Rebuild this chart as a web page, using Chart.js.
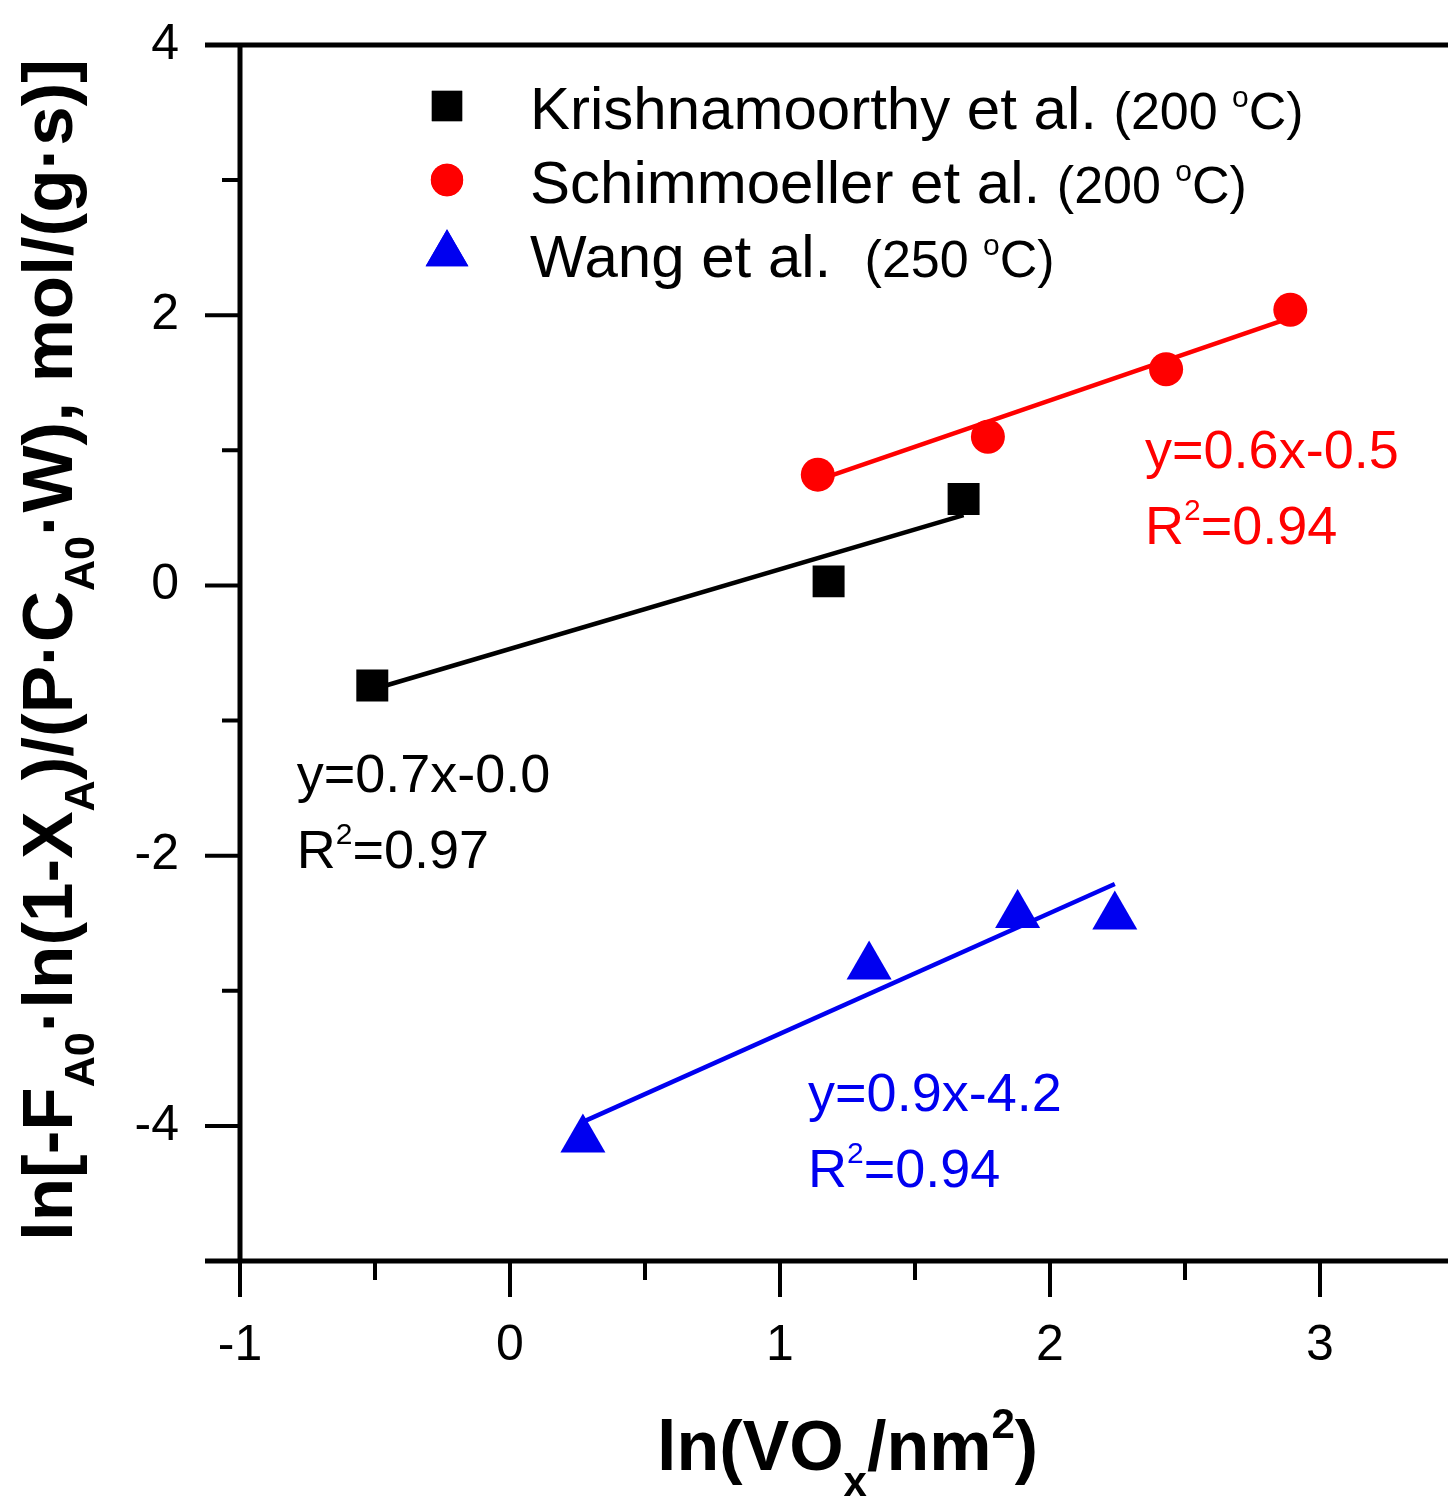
<!DOCTYPE html>
<html>
<head>
<meta charset="utf-8">
<script src="https://cdn.jsdelivr.net/npm/chart.js@4.4.0/dist/chart.umd.min.js"></script>
<style>
  html, body { margin: 0; padding: 0; background: #fff; overflow: hidden; }
  canvas { display: block; }
</style>
</head>
<body>
<canvas id="chart" width="1460" height="1501"></canvas>
<script>
// ---- data ----
const krishX = [-0.51, 1.18, 1.68];
const krishY = [-0.74, 0.03, 0.64];
const krishFitX = [-0.51, 1.68];
const krishFitY = [-0.77, 0.52];

const schimX = [1.14, 1.77, 2.43, 2.89];
const schimY = [0.82, 1.10, 1.60, 2.04];
const schimFitX = [1.14, 2.89];
const schimFitY = [0.78, 1.98];

const wangX = [0.27, 1.33, 1.88, 2.24];
const wangY = [-4.10, -2.82, -2.44, -2.45];
const wangFitX = [0.27, 2.24];
const wangFitY = [-3.97, -2.21];

const seriesNames = ['Krishnamoorthy et al.', 'Schimmoeller et al.', 'Wang et al. '];
const seriesTemps = ['200', '200', '250'];
const fitEquations = ['y=0.7x-0.0', 'y=0.6x-0.5', 'y=0.9x-4.2'];
const fitR2 = ['0.97', '0.94', '0.94'];

const xTickLabels = [-1, 0, 1, 2, 3];
const yTickLabels = [4, 2, 0, -2, -4];
const xRange = [-1, 3.5];
const yRange = [-5, 4];

// ---- styling ----
const FONT = "'Liberation Sans', Arial, Helvetica, sans-serif";
const colors = ['#000000', '#ff0000', '#0000f0'];
const markers = [
  { style: 'rect', radius: 22.6 },
  { style: 'circle', radius: 17 },
  { style: 'triangle', radius: 26 }
];
// where the fit equations sit (data units, left edge / baseline)
const fitLabelAnchors = [
  { x: -0.79, y: -1.53 },
  { x: 2.352, y: 0.867 },
  { x: 1.104, y: -3.889 }
];

const toPoints = (xs, ys) => xs.map((x, i) => ({ x, y: ys[i] }));

const pointSets = [toPoints(krishX, krishY), toPoints(schimX, schimY), toPoints(wangX, wangY)];
const fitSets = [toPoints(krishFitX, krishFitY), toPoints(schimFitX, schimFitY), toPoints(wangFitX, wangFitY)];

const datasets = [];
fitSets.forEach((pts, i) => {
  datasets.push({
    type: 'line',
    data: pts,
    borderColor: colors[i],
    borderWidth: 4.5,
    pointRadius: 0,
    fill: false,
    order: 2
  });
});
pointSets.forEach((pts, i) => {
  datasets.push({
    type: 'scatter',
    label: seriesNames[i],
    data: pts,
    pointStyle: markers[i].style,
    pointRadius: markers[i].radius,
    pointHoverRadius: markers[i].radius,
    backgroundColor: colors[i],
    borderColor: colors[i],
    borderWidth: 0,
    order: 1
  });
});

// ---- rich text helpers (sub/superscripts) ----
function fontOf(p) {
  return (p.bold ? 'bold ' : '') + p.size + 'px ' + FONT;
}
function richWidth(ctx, parts) {
  let w = 0;
  parts.forEach(p => { ctx.font = fontOf(p); w += ctx.measureText(p.text).width; });
  return w;
}
function drawRich(ctx, parts, x, y) {
  let cx = x;
  parts.forEach(p => {
    ctx.font = fontOf(p);
    ctx.fillText(p.text, cx, y + (p.shift || 0));
    cx += ctx.measureText(p.text).width;
  });
}

// fixed plot box: no extra room for edge labels
function fixBox(s, key, size) {
  s[key] = size;
  s.paddingTop = 0;
  s.paddingBottom = 0;
  s.paddingLeft = 0;
  s.paddingRight = 0;
}

// ---- axes, ticks, titles, legend, fit labels ----
const decorations = {
  id: 'decorations',
  afterDraw(chart) {
    const { ctx, chartArea: a, scales: { x, y } } = chart;
    ctx.save();
    ctx.strokeStyle = '#000';
    ctx.lineCap = 'butt';

    // frame lines
    ctx.lineWidth = 5;
    ctx.beginPath();
    ctx.moveTo(a.left - 35, a.top); ctx.lineTo(a.right, a.top);
    ctx.moveTo(a.left - 35, a.bottom); ctx.lineTo(a.right, a.bottom);
    ctx.moveTo(a.left, a.top); ctx.lineTo(a.left, a.bottom);
    ctx.stroke();

    // y ticks: long at labelled values, short in between
    ctx.lineWidth = 4;
    ctx.beginPath();
    for (let v = yRange[0]; v <= yRange[1]; v++) {
      const py = y.getPixelForValue(v);
      const len = yTickLabels.includes(v) ? 35 : 18;
      ctx.moveTo(a.left - len, py); ctx.lineTo(a.left, py);
    }
    // x ticks
    for (let v = xRange[0]; v <= xRange[1]; v += 0.5) {
      const px = x.getPixelForValue(v);
      const len = xTickLabels.includes(v) ? 36 : 19;
      ctx.moveTo(px, a.bottom); ctx.lineTo(px, a.bottom + len);
    }
    ctx.stroke();

    ctx.fillStyle = '#000';
    ctx.textBaseline = 'alphabetic';
    ctx.textAlign = 'left';

    // x title
    const xt = [
      { text: 'ln(VO', size: 70, bold: true },
      { text: 'x', size: 42, bold: true, shift: 26 },
      { text: '/nm', size: 70, bold: true },
      { text: '2', size: 42, bold: true, shift: -32 },
      { text: ')', size: 70, bold: true }
    ];
    const xc = (a.left + a.right) / 2;
    drawRich(ctx, xt, xc - richWidth(ctx, xt) / 2, 1470);

    // y title
    const yt = [
      { text: 'ln[-F', size: 71, bold: true },
      { text: 'A0', size: 43, bold: true, shift: 22 },
      { text: '·ln(1-X', size: 71, bold: true },
      { text: 'A', size: 43, bold: true, shift: 22 },
      { text: ')/(P·C', size: 71, bold: true },
      { text: 'A0', size: 43, bold: true, shift: 22 },
      { text: '·W), mol/(g·s)]', size: 71, bold: true }
    ];
    ctx.save();
    ctx.translate(72, 650);
    ctx.rotate(-Math.PI / 2);
    drawRich(ctx, yt, -richWidth(ctx, yt) / 2, 0);
    ctx.restore();

    // legend
    const legendRows = [106, 180, 254];
    seriesNames.forEach((name, i) => {
      const cy = legendRows[i];
      ctx.fillStyle = colors[i];
      Chart.helpers.drawPoint(ctx, {
        pointStyle: markers[i].style,
        radius: markers[i].radius * 0.95,
        rotation: 0,
        borderWidth: 0
      }, 447, cy);
      ctx.fill();
      ctx.fillStyle = '#000';
      drawRich(ctx, [
        { text: name + ' ', size: 60 },
        { text: '(' + seriesTemps[i] + ' ', size: 52 },
        { text: 'o', size: 30, shift: -22 },
        { text: 'C)', size: 52 }
      ], 530, cy + 23);
    });

    // fit equations
    fitEquations.forEach((eq, i) => {
      const px = x.getPixelForValue(fitLabelAnchors[i].x);
      const py = y.getPixelForValue(fitLabelAnchors[i].y);
      ctx.fillStyle = colors[i];
      drawRich(ctx, [{ text: eq, size: 54 }], px, py);
      drawRich(ctx, [
        { text: 'R', size: 54 },
        { text: '2', size: 30, shift: -24 },
        { text: '=' + fitR2[i], size: 54 }
      ], px, py + 76);
    });

    ctx.restore();
  }
};

new Chart(document.getElementById('chart'), {
  data: { datasets },
  options: {
    responsive: false,
    animation: false,
    events: [],
    layout: { autoPadding: false, padding: { top: 45, right: 5, left: 0, bottom: 0 } },
    plugins: { legend: { display: false }, tooltip: { enabled: false } },
    scales: {
      x: {
        type: 'linear',
        min: xRange[0],
        max: xRange[1],
        grid: { display: false },
        border: { display: false },
        ticks: {
          stepSize: 1,
          autoSkip: false,
          maxRotation: 0,
          padding: 47,
          color: '#000',
          font: { family: FONT, size: 50 },
          callback: v => (xTickLabels.includes(v) ? String(v) : '')
        },
        afterFit: s => fixBox(s, 'height', 240)
      },
      y: {
        type: 'linear',
        min: yRange[0],
        max: yRange[1],
        grid: { display: false },
        border: { display: false },
        ticks: {
          stepSize: 1,
          autoSkip: false,
          padding: 53,
          color: '#000',
          font: { family: FONT, size: 50 },
          callback: v => (yTickLabels.includes(v) ? String(v) : '')
        },
        afterFit: s => fixBox(s, 'width', 240)
      }
    }
  },
  plugins: [decorations]
});
</script>
</body>
</html>
